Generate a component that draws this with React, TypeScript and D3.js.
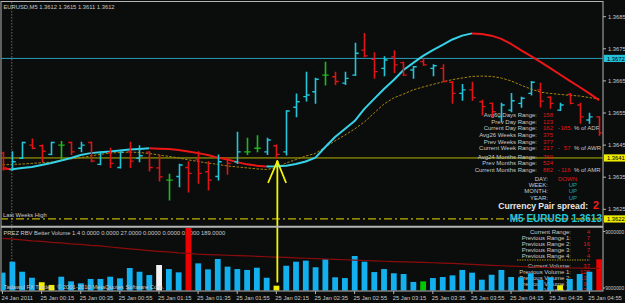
import React from "react";
import * as d3 from "d3";

const W = 625;
const H = 303;

// ---- OHLC price bars (EURUSD M5) ----
const barOpen = [1.36425, 1.36374, 1.36409, 1.3645, 1.36448, 1.36421, 1.3645, 1.36458, 1.3644, 1.36458,
  1.3639, 1.36426, 1.3638, 1.36429, 1.36409, 1.36428, 1.36379, 1.36341, 1.36352, 1.3638,
  1.36404, 1.36367, 1.36352, 1.36409, 1.36398, 1.36429, 1.3644, 1.36429, 1.36448, 1.36429,
  1.36568, 1.36601, 1.36616, 1.36668, 1.36663, 1.36643, 1.36668, 1.36746, 1.36717, 1.36689,
  1.36725, 1.36707, 1.36684, 1.3671, 1.36689, 1.36689, 1.36646, 1.36611, 1.36622, 1.36585,
  1.3658, 1.36538, 1.36559, 1.3658, 1.36611, 1.36622, 1.36599, 1.36559, 1.36608, 1.36575,
  1.36528, 1.36538];
const barHigh = [1.36428, 1.36429, 1.36459, 1.36469, 1.3645, 1.36459, 1.36461, 1.36459, 1.36459, 1.36459,
  1.36428, 1.3644, 1.36429, 1.36459, 1.36448, 1.36429, 1.36419, 1.36359, 1.3639, 1.36398,
  1.36429, 1.36398, 1.36419, 1.3641, 1.3649, 1.36471, 1.36479, 1.36471, 1.3645, 1.36557,
  1.36609, 1.36677, 1.36658, 1.36708, 1.36677, 1.36677, 1.36767, 1.36798, 1.36738, 1.36725,
  1.36744, 1.36708, 1.36695, 1.3672, 1.367, 1.367, 1.36648, 1.36639, 1.36646, 1.3659,
  1.36581, 1.3658, 1.36611, 1.36599, 1.36648, 1.36643, 1.36601, 1.3658, 1.36611, 1.3658,
  1.36549, 1.36538];
const barLow = [1.36372, 1.36372, 1.36408, 1.36439, 1.36398, 1.3642, 1.36404, 1.36421, 1.36429, 1.36398,
  1.36389, 1.3638, 1.36379, 1.3638, 1.36398, 1.36369, 1.36338, 1.36279, 1.3632, 1.36304,
  1.36331, 1.3631, 1.36341, 1.36359, 1.36393, 1.36421, 1.36429, 1.36421, 1.36409, 1.36419,
  1.36538, 1.36587, 1.3658, 1.36637, 1.36639, 1.36639, 1.36667, 1.36725, 1.36658, 1.36666,
  1.36676, 1.36667, 1.36658, 1.36699, 1.36666, 1.36647, 1.3658, 1.3659, 1.3659, 1.36544,
  1.36538, 1.36523, 1.36554, 1.36568, 1.36606, 1.36569, 1.36565, 1.36558, 1.36579, 1.36518,
  1.36518, 1.36481];
const barClose = [1.36379, 1.36398, 1.36458, 1.3644, 1.36431, 1.36458, 1.3645, 1.36429, 1.3645, 1.364,
  1.36427, 1.36393, 1.36428, 1.364, 1.36417, 1.3638, 1.36351, 1.36341, 1.36388, 1.36362,
  1.36362, 1.36341, 1.36398, 1.36393, 1.36429, 1.36429, 1.3644, 1.36466, 1.36421, 1.36556,
  1.36585, 1.36606, 1.36655, 1.36668, 1.36648, 1.36658, 1.36736, 1.36728, 1.36679, 1.36715,
  1.367, 1.36668, 1.36694, 1.367, 1.36697, 1.36648, 1.36611, 1.36622, 1.36598, 1.3657,
  1.36554, 1.36575, 1.36588, 1.36596, 1.36646, 1.36587, 1.3658, 1.36575, 1.3658, 1.36538,
  1.36538, 1.36488];

// ---- trend MA (colour switches with slope) ----
const trendMA = [1.36377, 1.36375, 1.36379, 1.36382, 1.36388, 1.36394, 1.36402, 1.3641, 1.36419, 1.36425,
  1.36428, 1.3643, 1.36433, 1.36436, 1.36438, 1.3644, 1.36439, 1.36438, 1.36435, 1.3643,
  1.36425, 1.36419, 1.36411, 1.36405, 1.36397, 1.3639, 1.36386, 1.36383, 1.36384, 1.36386,
  1.36391, 1.36399, 1.36411, 1.36444, 1.36475, 1.365, 1.36525, 1.36563, 1.36594, 1.36625,
  1.36653, 1.36684, 1.36706, 1.36728, 1.36746, 1.36762, 1.36779, 1.36791, 1.36798, 1.36796,
  1.36791, 1.36781, 1.36765, 1.36746, 1.36728, 1.36709, 1.3669, 1.3667, 1.3665, 1.36631,
  1.36611, 1.3659];

// ---- slow MA (dashed) ----
const slowMA = [1.36388, 1.3639, 1.36391, 1.36393, 1.36395, 1.36397, 1.36402, 1.36407, 1.36411, 1.36416,
  1.36421, 1.36425, 1.36427, 1.36428, 1.36427, 1.36424, 1.36419, 1.36415, 1.3641, 1.36404,
  1.36399, 1.36394, 1.3639, 1.36385, 1.36382, 1.36379, 1.36376, 1.36374, 1.3638, 1.36394,
  1.36405, 1.36416, 1.36424, 1.36444, 1.36463, 1.36481, 1.365, 1.36522, 1.3655, 1.36578,
  1.36597, 1.36609, 1.36622, 1.36631, 1.36639, 1.36647, 1.36654, 1.36659, 1.36664, 1.36665,
  1.36664, 1.36659, 1.3665, 1.36637, 1.36625, 1.36615, 1.36611, 1.36608, 1.36605, 1.36603,
  1.36598, 1.36594];

// ---- Better Volume ----
const volumes = [119, 192, 125, 85, 55, 37, 92, 61, 48, 77,
  77, 92, 81, 150, 125, 103, 170, 143, 121, 455,
  181, 141, 210, 159, 143, 137, 152, 85, 32, 165,
  192, 199, 155, 208, 88, 83, 230, 192, 123, 143,
  115, 110, 57, 61, 83, 90, 101, 137, 119, 72,
  105, 137, 90, 88, 115, 70, 88, 35, 77, 110,
  125, 208];
const volumeTypes = ["n", "n", "n", "n", "y", "y", "n", "n", "n", "n",
  "n", "n", "n", "n", "n", "n", "w", "n", "n", "r",
  "n", "n", "n", "n", "n", "n", "n", "n", "y", "n",
  "n", "n", "n", "n", "n", "n", "n", "n", "n", "n",
  "n", "n", "n", "g", "n", "n", "n", "n", "n", "n",
  "n", "n", "n", "n", "n", "n", "n", "y", "n", "n",
  "n", "r"];
const volumeMA = [348, 342, 337, 331, 327, 321, 317, 311, 307, 301,
  297, 290, 284, 278, 272, 266, 261, 257, 251, 247,
  242, 239, 237, 235, 233, 231, 228, 225, 223, 221,
  218, 215, 213, 210, 207, 205, 202, 200, 198, 195,
  193, 191, 189, 187, 185, 183, 181, 177, 174, 171,
  168, 165, 162, 160, 157, 155, 152, 151, 150, 149,
  148, 147];

// ---- axes ----
const timeTickLabels = ["24 Jan 2011", "25 Jan 00:15", "25 Jan 00:35", "25 Jan 00:55", "25 Jan 01:15",
  "25 Jan 01:35", "25 Jan 01:55", "25 Jan 02:15", "25 Jan 02:35", "25 Jan 02:55", "25 Jan 03:15",
  "25 Jan 03:35", "25 Jan 03:55", "25 Jan 04:15", "25 Jan 04:35", "25 Jan 04:55"];
const timeTickEvery = 4;
const priceTicks = [1.3685, 1.3675, 1.3665, 1.3655, 1.3645, 1.3635, 1.3625];
const levelPrices = [1.3672, 1.3641, 1.3622];
const volumeAxisLabels = ["9000000", "9000000"];
const arrowBar = 28;

// ---- text panels ----
const rangeGroups = [
  [
    { label: "Avg60 Days Range:", value: "158" },
    { label: "Prev Day Range:", value: "123" },
    { label: "Current Day Range:", value: "162", pct: "185", unit: "% of ADR" },
  ],
  [
    { label: "Avg26 Weeks Range:", value: "375" },
    { label: "Prev Weeks Range:", value: "377" },
    { label: "Current Week Range:", value: "217", pct: "57", unit: "% of AWR" },
  ],
  [
    { label: "Avg24 Months Range:", value: "760" },
    { label: "Prev Months Range:", value: "524" },
    { label: "Current Months Range:", value: "882", pct: "116", unit: "% of AMR" },
  ],
];
const trendRows = [
  { label: "DAY:", value: "DOWN" },
  { label: "WEEK:", value: "UP" },
  { label: "MONTH:", value: "UP" },
  { label: "YEAR:", value: "UP" },
];
const rangeRows = [
  { label: "Current Range:", value: "4" },
  { label: "Previous Range 1:", value: "7" },
  { label: "Previous Range 2:", value: "16" },
  { label: "Previous Range 3:", value: "7" },
  { label: "Previous Range 4:", value: "4" },
];
const volumeRows = [
  { label: "Current Volume:", value: "37" },
  { label: "Previous Volume 1:", value: "125" },
  { label: "Previous Volume 2:", value: "132" },
  { label: "Previous Volume 3:", value: "98" },
  { label: "Previous Volume 4:", value: "130" },
];

const FONT = "'Liberation Sans', Arial, sans-serif";
const BG = "#0b0d0d";
const CYAN = "#22c6da";
const RED = "#e01414";
const GREEN = "#1fb81f";
const TXT = "#c8c8c8";
const VCOL: Record<string, string> = { n: "#12b0ee", y: "#f2f200", w: "#f2f2f2", r: "#ee0000", g: "#00c800" };

export default function App() {
  const n = barOpen.length;
  const x = d3.scaleLinear().domain([0, n - 1]).range([2.5, 599.1]);
  const y = d3.scaleLinear().domain([1.3625, 1.3685]).range([209.3, 16.7]);
  const yv = d3.scaleLinear().domain([0, 400]).range([290.5, 230.5]);

  const idx = d3.range(n);

  // trend MA segments grouped by slope direction
  const runs: { pts: number[]; up: boolean }[] = [];
  for (let i = 1; i < n; i++) {
    const up = trendMA[i] >= trendMA[i - 1];
    const last = runs[runs.length - 1];
    if (last && last.up === up) last.pts.push(i);
    else runs.push({ pts: [i - 1, i], up });
  }
  const maLine = d3.line<number>().x((i) => x(i)).y((i) => y(trendMA[i]));
  const slowLine = d3.line<number>().x((i) => x(i)).y((i) => y(slowMA[i]));
  const volLine = d3.line<number>().x((i) => x(i)).y((i) => yv(volumeMA[i]));

  const barColor = (i: number) =>
    barClose[i] > barOpen[i] ? CYAN : barClose[i] < barOpen[i] ? RED : GREEN;

  const ax = x(arrowBar);
  const arrowTip = y(barLow[arrowBar]) + 3;
  const arrowEnd = yv(volumes[arrowBar]) - 4;

  // info block layout
  const groupTop = [117.2, 137.3, 158.9];
  const rowStep = 6.4;

  return (
    <div style={{ position: "fixed", left: 0, top: 0 }}>
      <svg width={W} height={H} style={{ display: "block", background: BG }} fontFamily={FONT}>
        <defs>
          <clipPath id="mainClip">
            <rect x={1.5} y={2} width={601} height={224} />
          </clipPath>
          <clipPath id="volClip">
            <rect x={1.5} y={228} width={601} height={63} />
          </clipPath>
        </defs>
        <rect x={0} y={0} width={W} height={H} fill={BG} />

        {/* ===== main panel ===== */}
        <g clipPath="url(#mainClip)">
          {/* period separator */}
          <line x1={x(1) - 0.5} x2={x(1) - 0.5} y1={2} y2={226} stroke="#6e6a55" strokeDasharray="1.5,1.5" />
          {/* level lines */}
          <line x1={0} x2={603} y1={y(levelPrices[0])} y2={y(levelPrices[0])} stroke="#2a9cb8" strokeWidth={1} />
          <line x1={0} x2={603} y1={y(levelPrices[1])} y2={y(levelPrices[1])} stroke="#b4b400" strokeWidth={1} />
          <line x1={0} x2={603} y1={y(levelPrices[2])} y2={y(levelPrices[2])} stroke="#c0b000" strokeWidth={1.2} strokeDasharray="8,3,2,3" />
          <text x={3} y={216.5} fontSize={5.8} fill={TXT}>Last Weeks High</text>

          {/* info text block */}
          {rangeGroups.map((g, gi) =>
            g.map((r, ri) => {
              const ty = groupTop[gi] + ri * rowStep;
              return (
                <g key={`rg${gi}-${ri}`} fontSize={6}>
                  <text x={537} y={ty} textAnchor="end" fill={TXT}>{r.label}</text>
                  <text x={543} y={ty} fill={RED}>{r.value}</text>
                  {r.pct && (
                    <>
                      <text x={558} y={ty} fill={TXT}>·</text>
                      <text x={570.5} y={ty} textAnchor="end" fill={RED}>{r.pct}</text>
                      <text x={574} y={ty} fill={TXT}>{r.unit}</text>
                    </>
                  )}
                </g>
              );
            })
          )}
          {trendRows.map((r, i) => (
            <g key={`tr${i}`} fontSize={6}>
              <text x={548} y={180.5 + i * 6.35} textAnchor="end" fill={TXT}>{r.label}</text>
              <text x={577} y={180.5 + i * 6.35} textAnchor="end" fill={r.value === "DOWN" ? RED : "#1e9fd0"}>{r.value}</text>
            </g>
          ))}
          <text x={588} y={208.5} textAnchor="end" fontSize={8.6} fontWeight="bold" fill="#e6e6e6">Currency Pair spread:</text>
          <text x={593} y={209} fontSize={10.5} fontWeight="bold" fill="#ff1a1a">2</text>
          <text x={602} y={222} textAnchor="end" fontSize={10} fontWeight="bold" fill="#20c8dc">M5 EURUSD 1.3613</text>

          {/* slow MA */}
          <path d={slowLine(idx) || ""} fill="none" stroke="#a8860c" strokeWidth={1} strokeDasharray="2.5,1.5" />

          {/* trend MA */}
          {runs.map((r, i) => (
            <path key={`ma${i}`} d={maLine(r.pts) || ""} fill="none" stroke={r.up ? "#36d3e8" : "#ec1616"} strokeWidth={2} strokeLinejoin="round" />
          ))}

          {/* OHLC bars */}
          {idx.map((i) => {
            const cx = Math.round(x(i)) + 0.5;
            const c = barColor(i);
            return (
              <g key={`b${i}`} stroke={c}>
                <line x1={cx} x2={cx} y1={y(barHigh[i]) - 0.5} y2={y(barLow[i]) + 0.5} strokeWidth={1.6} />
                <line x1={cx - 3.2} x2={cx} y1={y(barOpen[i])} y2={y(barOpen[i])} strokeWidth={1.4} />
                <line x1={cx} x2={cx + 3.2} y1={y(barClose[i])} y2={y(barClose[i])} strokeWidth={1.4} />
              </g>
            );
          })}

          {/* title */}
          <text x={3.5} y={9} fontSize={5.8} fill={TXT}>EURUSD,M5  1.3612 1.3615 1.3611 1.3612</text>
        </g>

        {/* ===== volume panel ===== */}
        <g clipPath="url(#volClip)">
          <line x1={x(1) - 0.5} x2={x(1) - 0.5} y1={228} y2={291} stroke="#6e6a55" strokeDasharray="1.5,1.5" />
          <text x={3.5} y={234.5} fontSize={5.8} fill={TXT}>PREZ RBV  Better Volume 1.4 0.0000 0.0000 27.0000 0.0000 0.0000 0.0000 189.0000</text>
          {rangeRows.map((r, i) => (
            <g key={`rr${i}`} fontSize={6}>
              <text x={571} y={233.7 + i * 6} textAnchor="end" fill={TXT}>{r.label}</text>
              <text x={590} y={233.7 + i * 6} textAnchor="end" fill={RED}>{r.value}</text>
            </g>
          ))}
          <line x1={517} x2={590} y1={260} y2={260} stroke="#a89000" strokeDasharray="1.5,1" strokeWidth={1.2} />
          {volumeRows.map((r, i) => (
            <g key={`vr${i}`} fontSize={6}>
              <text x={571} y={267.8 + i * 6.05} textAnchor="end" fill={TXT}>{r.label}</text>
              <text x={590} y={267.8 + i * 6.05} textAnchor="end" fill={RED}>{r.value}</text>
            </g>
          ))}
          {idx.map((i) => (
            <rect key={`v${i}`} x={x(i) - 2.8} width={5.8} y={yv(volumes[i])} height={yv(0) - yv(volumes[i])} fill={VCOL[volumeTypes[i]]} />
          ))}
          <path d={volLine(idx) || ""} fill="none" stroke="#8c0c0c" strokeWidth={1.2} />
          <text x={3.5} y={289.3} fontSize={5.8} fill={TXT}>Tadawul FX Trader , © 2001-2010 MetaQuotes Software Corp.</text>
        </g>

        {/* yellow arrow */}
        <g stroke="#f5f500" strokeWidth={1.8} fill="none" strokeLinecap="round">
          <line x1={ax + 1} x2={ax + 1} y1={arrowTip} y2={arrowEnd} />
          <line x1={ax + 1} x2={ax - 8} y1={arrowTip} y2={arrowTip + 21} />
          <line x1={ax + 1} x2={ax + 9.5} y1={arrowTip} y2={arrowTip + 21} />
        </g>

        {/* frames */}
        <rect x={1} y={1.5} width={602} height={289.5} fill="none" stroke="#b4b4b4" strokeWidth={1} />
        <line x1={1} x2={603} y1={226.8} y2={226.8} stroke="#b4b4b4" strokeWidth={2} />

        {/* right price axis */}
        {priceTicks.map((p) => (
          <g key={`pt${p}`}>
            <line x1={603} x2={606} y1={y(p)} y2={y(p)} stroke="#b4b4b4" />
            <text x={608} y={y(p) + 2} fontSize={5.8} fill={TXT}>{p.toFixed(4)}</text>
          </g>
        ))}
        {levelPrices.map((p, i) => (
          <g key={`lp${p}`}>
            <rect x={604} y={y(p) - 3.6} width={21} height={7.2} fill={i === 0 ? "#22c3d8" : "#ecec00"} />
            <text x={607} y={y(p) + 2.1} fontSize={5.8} fill="#000">{p.toFixed(4)}</text>
          </g>
        ))}
        {/* volume axis */}
        <line x1={603} x2={605} y1={231.5} y2={231.5} stroke="#b4b4b4" />
        <text x={624.3} y={233.6} fontSize={4.9} fill={TXT} textAnchor="end">{volumeAxisLabels[0]}</text>
        <line x1={603} x2={605} y1={288} y2={288} stroke="#b4b4b4" />
        <text x={624.3} y={290} fontSize={4.9} fill={TXT} textAnchor="end">{volumeAxisLabels[1]}</text>

        {/* time axis */}
        {timeTickLabels.map((t, k) => {
          const tx = x(k * timeTickEvery);
          return (
            <g key={`tt${k}`}>
              <line x1={tx} x2={tx} y1={291} y2={294} stroke="#b4b4b4" />
              <text x={tx - 1} y={299.5} fontSize={5.8} fill={TXT}>{t}</text>
            </g>
          );
        })}
      </svg>
    </div>
  );
}
